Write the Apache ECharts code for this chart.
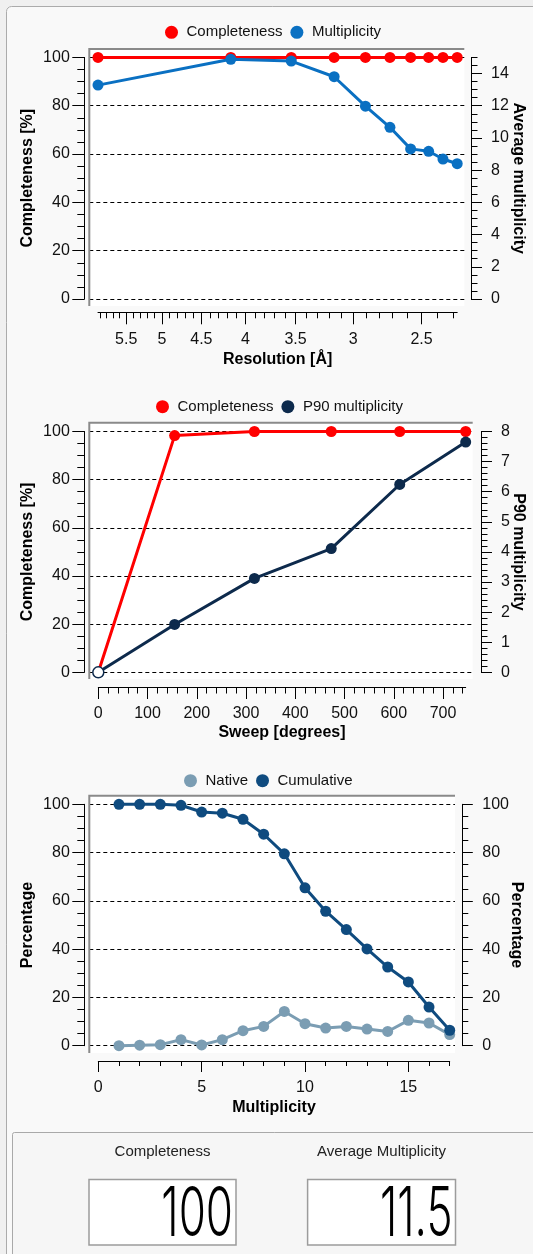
<!DOCTYPE html>
<html><head><meta charset="utf-8">
<script src="https://cdn.jsdelivr.net/npm/echarts@6/dist/echarts.min.js"></script>
<style>html,body{margin:0;padding:0;background:#f0f0f0;}#c{width:533px;height:1254px;}</style>
</head><body><div id="c"></div>
<script>
// ---------- data: chart 1 (per resolution shell) ----------
const resolution = [5.93, 4.16, 3.54, 3.157, 2.904, 2.72, 2.574, 2.453, 2.361, 2.273];
const completenessByShell = [100, 100, 100, 100, 100, 100, 100, 100, 100, 100];
const multiplicityByShell = [13.28, 14.88, 14.77, 13.80, 11.97, 10.66, 9.32, 9.17, 8.69, 8.40];
const resolutionTickLabels = [5.5, 5, 4.5, 4, 3.5, 3, 2.5];
const avgMultiplicityTicks = [0, 2, 4, 6, 8, 10, 12, 14];
// ---------- data: chart 2 (per sweep) ----------
const sweep = [0, 155, 317, 473, 612, 746];
const completenessBySweep = [0, 98.3, 100, 100, 100, 100];
const p90Multiplicity = [0, 1.59, 3.12, 4.11, 6.24, 7.65];
const sweepTickLabels = [0, 100, 200, 300, 400, 500, 600, 700];
const p90Ticks = [0, 1, 2, 3, 4, 5, 6, 7, 8];
// ---------- data: chart 3 (multiplicity histogram) ----------
const multiplicityBins = [1, 2, 3, 4, 5, 6, 7, 8, 9, 10, 11, 12, 13, 14, 15, 16, 17];
const nativePct = [0, 0.2, 0.4, 2.5, 0.3, 2.5, 6.2, 8.0, 14.2, 9.1, 7.3, 8.0, 6.9, 5.9, 10.5, 9.4, 4.6];
const cumulativePct = [100, 100, 100, 99.6, 96.8, 96.3, 93.8, 87.6, 79.5, 65.4, 55.7, 48.1, 40.1, 32.6, 26.4, 16.0, 6.4];
const multiplicityTickLabels = [0, 5, 10, 15];
const percentTicks = [0, 20, 40, 60, 80, 100];
// ---------- summary panel ----------
const summaryLabels = ['Completeness', 'Average Multiplicity'];
const summaryValues = ['100', '11.5'];

const FONT = '"Liberation Sans", Arial, sans-serif';
function steps(a, b, s) { const r = []; for (let v = a; v <= b + 1e-9; v += s) r.push(Math.round(v * 1000) / 1000); return r; }

const chart = echarts.init(document.getElementById('c'), null, {width: 533, height: 1254});

const specs = [
  {
    data: {l: 98, t: 57.4, r: 457.2, b: 299}, frame: {l: 89.3, t: 49, r: 464.3, b: 306},
    legend: {left: 165, top: 24.8, names: ['Completeness', 'Multiplicity']},
    x: {min: Math.log(Math.min(...resolution)), max: Math.log(Math.max(...resolution)), inverse: true,
        major: resolutionTickLabels.map(Math.log), minor: steps(2.3, 5.9, 0.1).map(Math.log),
        majorLen: 12, minorLen: 6, offset: 13.3, margin: 19, name: 'Resolution [Å]', nameGap: 39,
        formatter: v => String(Math.round(Math.exp(v) * 10) / 10)},
    yl: {min: 0, max: 100, major: percentTicks, minor: steps(0, 100, 5), majorLen: 12, minorLen: 7, offset: 13.7, margin: 14.5, name: 'Completeness [%]', nameGap: 49},
    yr: {min: 0, max: 15, major: avgMultiplicityTicks, minor: steps(0, 15, 0.5), majorLen: 11, minorLen: 6.5, offset: 13.8, margin: 20, name: 'Average multiplicity', nameGap: 39},
    series: [
      {name: 'Completeness', side: 'l', color: '#ff0000', data: resolution.map((d, i) => [Math.log(d), completenessByShell[i]])},
      {name: 'Multiplicity', side: 'r', color: '#0a70c2', data: resolution.map((d, i) => [Math.log(d), multiplicityByShell[i]])}
    ]
  },
  {
    data: {l: 98.3, t: 431.5, r: 465.7, b: 672.3}, frame: {l: 89.3, t: 422.7, r: 472.7, b: 679},
    legend: {left: 156, top: 399.2, names: ['Completeness', 'P90 multiplicity']},
    x: {min: 0, max: Math.max(...sweep), inverse: false,
        major: sweepTickLabels, minor: steps(0, 740, 20),
        majorLen: 12, minorLen: 6.5, offset: 14.7, margin: 18.5, name: 'Sweep [degrees]', nameGap: 38},
    yl: {min: 0, max: 100, major: percentTicks, minor: steps(0, 100, 5), majorLen: 12, minorLen: 7, offset: 14, margin: 14.5, name: 'Completeness [%]', nameGap: 49},
    yr: {min: 0, max: 8, major: p90Ticks, minor: steps(0, 8, 0.2), majorLen: 11, minorLen: 6.5, offset: 15.3, margin: 20, name: 'P90 multiplicity', nameGap: 29.3},
    series: [
      {name: 'Completeness', side: 'l', color: '#ff0000', data: sweep.map((s, i) => [s, completenessBySweep[i]])},
      {name: 'P90 multiplicity', side: 'r', color: '#0d2a4c', firstHollow: true, data: sweep.map((s, i) => [s, p90Multiplicity[i]])}
    ]
  },
  {
    data: {l: 98.3, t: 804.3, r: 449.7, b: 1045.7}, frame: {l: 89.3, t: 795.7, r: 455, b: 1053},
    legend: {left: 184, top: 773.2, names: ['Native', 'Cumulative']},
    x: {min: 0, max: Math.max(...multiplicityBins), inverse: false,
        major: multiplicityTickLabels, minor: steps(0, 17, 1),
        majorLen: 11, minorLen: 5, offset: 15.3, margin: 18.7, name: 'Multiplicity', nameGap: 39},
    yl: {min: 0, max: 100, major: percentTicks, minor: steps(0, 100, 5), majorLen: 12, minorLen: 7, offset: 14, margin: 14.5, name: 'Percentage', nameGap: 49},
    yr: {min: 0, max: 100, major: percentTicks, minor: steps(0, 100, 5), majorLen: 10.5, minorLen: 6, offset: 12.6, margin: 20, name: 'Percentage', nameGap: 46.4},
    series: [
      {name: 'Native', side: 'l', color: '#7b9db3', data: multiplicityBins.map((m, i) => [m, nativePct[i]])},
      {name: 'Cumulative', side: 'l', color: '#0f4b7f', data: multiplicityBins.map((m, i) => [m, cumulativePct[i]])}
    ]
  }
];

const grids = [], xAxes = [], yAxes = [], series = [], legends = [], graphics = [];
const black = {color: '#000', width: 1};
const nameStyle = {fontSize: 16, fontWeight: 'bold', fontFamily: FONT, color: '#000'};

function axisPair(list, gridIndex, position, a, extra) {
  const base = {type: 'value', gridIndex, position, offset: a.offset, min: a.min, max: a.max, inverse: !!a.inverse, silent: true,
    splitLine: {show: false}, minorTick: {show: false}, minorSplitLine: {show: false}};
  const major = Object.assign({}, base, {
    axisLine: {show: true, onZero: false, lineStyle: black},
    axisTick: {show: true, inside: false, length: a.majorLen, customValues: a.major, lineStyle: black},
    axisLabel: {show: true, customValues: a.major, margin: a.margin, fontSize: 16, fontFamily: FONT, color: '#111', formatter: a.formatter},
    name: a.name, nameLocation: 'middle', nameGap: a.nameGap, nameMoveOverlap: false, nameTextStyle: nameStyle
  }, extra || {});
  const minor = Object.assign({}, base, {
    axisLine: {show: false, onZero: false},
    axisTick: {show: true, inside: false, length: a.minorLen, customValues: a.minor, lineStyle: black},
    axisLabel: {show: false}
  });
  list.push(major, minor);
  return list.length - 2;
}

specs.forEach((s) => {
  const d = s.data, f = s.frame;
  const gData = grids.length;
  grids.push({left: d.l, top: d.t, width: d.r - d.l, height: d.b - d.t, outerBoundsMode: 'none', containLabel: false});
  const gBg = grids.length;
  grids.push({left: f.l, top: d.t, width: f.r - f.l, height: d.b - d.t, outerBoundsMode: 'none', containLabel: false});

  const xi = axisPair(xAxes, gData, 'bottom', s.x);
  const yli = axisPair(yAxes, gData, 'left', s.yl);
  const yri = axisPair(yAxes, gData, 'right', s.yr, {nameRotate: -90});

  xAxes.push({type: 'value', gridIndex: gBg, min: 0, max: 1, axisLine: {show: false}, axisTick: {show: false}, axisLabel: {show: false}, splitLine: {show: false}});
  yAxes.push({type: 'value', gridIndex: gBg, min: 0, max: 100, interval: 20, axisLine: {show: false}, axisTick: {show: false}, axisLabel: {show: false},
    splitLine: {show: true, lineStyle: {color: '#000', width: 1, type: [4, 3]}}});

  s.series.forEach((se, k) => {
    series.push({
      type: 'line', name: se.name, xAxisIndex: xi, yAxisIndex: se.side === 'l' ? yli : yri,
      data: se.data.map((p, i) => (se.firstHollow && i === 0) ? {value: p, itemStyle: {color: '#ffffff', borderColor: se.color, borderWidth: 1.5}} : p),
      symbol: 'circle', symbolSize: 11, showSymbol: true, clip: false, silent: true,
      lineStyle: {color: se.color, width: 3}, itemStyle: {color: se.color, borderWidth: 0},
      emphasis: {disabled: true}, z: 3 + k, animation: false
    });
  });

  legends.push({left: s.legend.left, top: s.legend.top, padding: 0, icon: 'circle', itemWidth: 20, itemHeight: 13, itemGap: 8,
    selectedMode: false, data: s.legend.names, textStyle: {fontSize: 15, fontFamily: FONT, color: '#111'}});

  graphics.push({type: 'rect', z: -50, shape: {x: f.l, y: f.t, width: f.r - f.l, height: f.b - f.t}, style: {fill: '#ffffff'}});
  graphics.push({type: 'polyline', z: 50, shape: {points: [[f.l, f.b], [f.l, f.t], [f.r, f.t]]}, style: {stroke: '#8a8a8a', lineWidth: 2, fill: null}});
});

// window and summary panel
graphics.unshift({type: 'rect', z: -100, shape: {x: 6.5, y: 6.5, width: 600, height: 1400, r: 5}, style: {fill: '#f9f9f9', stroke: '#ababab', lineWidth: 1}});
graphics.push({type: 'rect', z: -40, shape: {x: 12.5, y: 1132.5, width: 600, height: 300, r: 2}, style: {fill: '#f6f6f6', stroke: '#a9a9a9', lineWidth: 1}});
const boxes = [{l: 89, r: 236}, {l: 307.6, r: 455.5}];
boxes.forEach((b, i) => {
  const cx = (b.l + b.r) / 2;
  graphics.push({type: 'text', z: 10, x: cx, y: 1152, style: {text: summaryLabels[i], fontSize: 15, fontFamily: FONT, fill: '#222', align: 'center', verticalAlign: 'middle'}});
  graphics.push({type: 'rect', z: -30, shape: {x: b.l, y: 1179.5, width: b.r - b.l, height: 65.5}, style: {fill: '#ffffff', stroke: '#9c9c9c', lineWidth: 1.5}});
  graphics.push({type: 'text', z: 10, x: b.r - 3, y: 1215, scaleX: 1.0, scaleY: 1.55,
    style: {text: summaryValues[i], fontSize: 44, fontWeight: 300, fontFamily: 'Inter, Roboto, "DejaVu Sans Mono", sans-serif', fill: '#000', align: 'right', verticalAlign: 'middle'}});
});

chart.setOption({
  animation: false,
  grid: grids, xAxis: xAxes, yAxis: yAxes, series: series, legend: legends,
  graphic: {elements: graphics}
});
</script></body></html>
